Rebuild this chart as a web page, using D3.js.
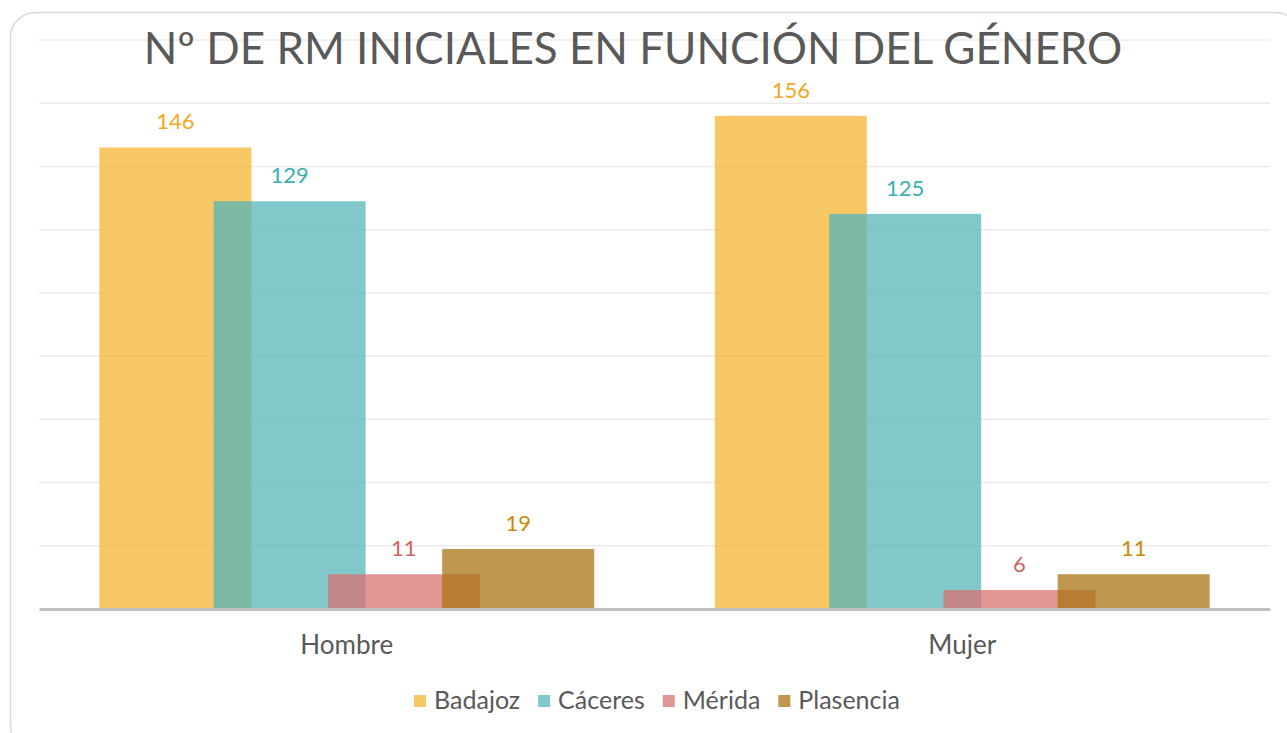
<!DOCTYPE html>
<html>
<head>
<meta charset="utf-8">
<script src="https://cdn.jsdelivr.net/npm/d3@7"></script>
<style>
    body { margin: 0; background: #fff; }
    text { font-family: Lato, "Open Sans", sans-serif; }
</style>
</head>
<body>
<div id="Chart_1"></div>
<script>

let categories = ["Hombre", "Mujer"];
let series = ["Badajoz", "Cáceres", "Mérida", "Plasencia"];
let badajoz = [146, 156];
let caceres = [129, 125];
let merida = [11, 6];
let plasencia = [19, 11];
let yTicks = [0, 20, 40, 60, 80, 100, 120, 140, 160, 180];

let values = [badajoz, caceres, merida, plasencia];
let barColors = ["#F6B433", "#56B6B8", "#D87370", "#AA7413"];
let labelColors = ["#F2A81E", "#3AAFB0", "#D06460", "#C8890A"];

let W = 1287, H = 733;
let margin = {top: 40, right: 17, bottom: 124, left: 39};
let width = W - margin.left - margin.right,
    height = H - margin.top - margin.bottom;

let svg = d3.select("#Chart_1")
    .append("svg")
    .attr("width", W)
    .attr("height", H)

// card outline
svg.append("rect")
    .attr("x", 10.5)
    .attr("y", 12.5)
    .attr("width", 1290)
    .attr("height", 740)
    .attr("rx", 25)
    .attr("fill", "none")
    .attr("stroke", "#D9D9D9")
    .attr("stroke-width", 1.5)

let g = svg.append("g")
    .attr("transform", "translate(" + margin.left + "," + margin.top + ")")

let yScale = d3.scaleLinear()
    .domain([0, 180])
    .range([height, 0]);

let xScale = d3.scaleBand()
    .domain(categories)
    .range([0, width])
    .padding(0);

let groupW = xScale.bandwidth() * 0.804;
let barW = xScale.bandwidth() * 0.247;

let xSeries = d3.scalePoint()
    .domain(series)
    .range([0, groupW - barW]);

// gridlines
g.selectAll(".grid")
    .data(yTicks.slice(1))
    .enter()
    .append("line")
    .attr("x1", 0)
    .attr("x2", width)
    .attr("y1", (d) => yScale(d))
    .attr("y2", (d) => yScale(d))
    .attr("stroke", "#EBEBEB")
    .attr("stroke-width", 1.5)

// title
svg.append("text")
    .text("Nº DE RM INICIALES EN FUNCIÓN DEL GÉNERO")
    .attr("x", 633)
    .attr("y", 64)
    .attr("text-anchor", "middle")
    .attr("fill", "#595959")
    .style("font-size", "44px")

// bars
series.forEach((s, j) => {
    let grp = g.append("g");
    grp.selectAll("rect")
        .data(values[j])
        .enter()
        .append("rect")
        .attr("x", (d, i) => xScale(categories[i]) + (xScale.bandwidth() - groupW) / 2 + xSeries(s))
        .attr("y", (d) => yScale(d))
        .attr("width", barW)
        .attr("height", (d) => height - yScale(d))
        .attr("fill", barColors[j])
        .attr("fill-opacity", 0.75)

    grp.selectAll("text")
        .data(values[j])
        .enter()
        .append("text")
        .text((d) => d)
        .attr("x", (d, i) => xScale(categories[i]) + (xScale.bandwidth() - groupW) / 2 + xSeries(s) + barW / 2)
        .attr("y", (d) => yScale(d) - 18)
        .attr("text-anchor", "middle")
        .attr("fill", labelColors[j])
        .style("font-size", "22px")
});

// baseline axis
let xAxis = d3.axisBottom(xScale).tickSize(0).tickPadding(27);
let ax = g.append("g")
    .attr("transform", "translate(0," + height + ")")
    .call(xAxis)
ax.select(".domain")
    .attr("stroke", "#BFBFBF")
    .attr("stroke-width", 3)
ax.selectAll("text")
    .attr("fill", "#595959")
    .style("font-size", "26px")
    .style("font-family", "Lato, 'Open Sans', sans-serif")

// legend
let legend = svg.append("g")
let lx = 0;
series.forEach((s, j) => {
    legend.append("rect")
        .attr("x", lx)
        .attr("y", -6)
        .attr("width", 12)
        .attr("height", 12)
        .attr("fill", barColors[j])
        .attr("fill-opacity", 0.75)
    let t = legend.append("text")
        .text(s)
        .attr("x", lx + 20)
        .attr("y", 8)
        .attr("fill", "#595959")
        .style("font-size", "25px")
    lx += 20 + t.node().getComputedTextLength() + 18;
});
lx -= 18;
legend.attr("transform", "translate(" + (657 - lx / 2) + ",701)")

</script>
</body>
</html>
